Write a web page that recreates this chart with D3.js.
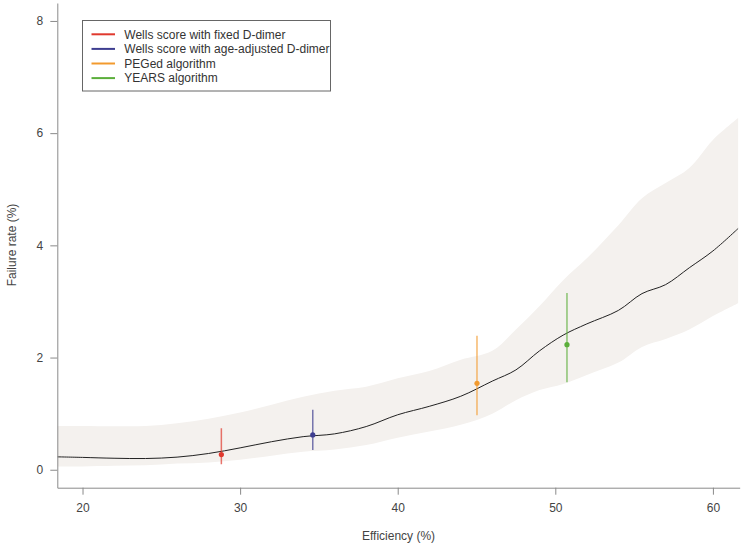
<!DOCTYPE html>
<html><head><meta charset="utf-8">
<script src="https://cdn.jsdelivr.net/npm/d3@7"></script>
<style>body{margin:0;background:#fff}svg{display:block;font-family:"Liberation Sans",Arial,sans-serif}</style>
</head><body><svg id="c" width="742" height="546"></svg>
<script>
// efficiency grid (%)
const effGrid = [18.4,20,22,24,26,28,30,32,34,36,38,40,42,44,46,47.5,49,50.5,52,54,55.5,57,58.5,60,61.6];
// central failure rate estimate (%)
const failCurve = [0.23,0.22,0.205,0.2,0.225,0.29,0.39,0.5,0.59,0.64,0.77,0.98,1.13,1.31,1.58,1.78,2.12,2.4,2.6,2.84,3.14,3.3,3.6,3.9,4.3];
// confidence band
const bandUpper = [0.78,0.78,0.775,0.78,0.83,0.91,1.02,1.16,1.3,1.41,1.48,1.63,1.76,1.96,2.12,2.5,2.92,3.38,3.77,4.36,4.84,5.11,5.38,5.88,6.27];
const bandLower = [0.06,0.06,0.07,0.08,0.11,0.13,0.18,0.25,0.32,0.36,0.44,0.57,0.68,0.8,1.0,1.24,1.42,1.53,1.69,1.91,2.19,2.33,2.5,2.74,2.97];
// algorithms
const algNames = ["Wells score with fixed D-dimer","Wells score with age-adjusted D-dimer","PEGed algorithm","YEARS algorithm"];
const algEff = [28.81,34.61,45.03,50.74];
const algFail = [0.27,0.62,1.54,2.23];
const algLow = [0.10,0.35,0.97,1.56];
const algHigh = [0.74,1.07,2.39,3.15];
const algColors = ["#E0392E","#3E3E90","#F29A2E","#5BAE3A"];
const xTicks = [20,30,40,50,60];
const yTicks = [0,2,4,6,8];

const svg = d3.select("#c");
const x = d3.scaleLinear().domain([18.4,61.7]).range([57.3,739.7]);
const y = d3.scaleLinear().domain([-0.32,8.32]).range([487.7,3]);

const curveData = effGrid.map((e,i)=>({e,m:failCurve[i],lo:bandLower[i],hi:bandUpper[i]}));

svg.append("defs").append("clipPath").attr("id","clip").append("rect")
  .attr("x",57.3).attr("y",3).attr("width",739.7-57.3).attr("height",487.7-3);

const g = svg.append("g").attr("clip-path","url(#clip)");
g.append("path").datum(curveData)
  .attr("d", d3.area().x(d=>x(d.e)).y0(d=>y(d.lo)).y1(d=>y(d.hi)).curve(d3.curveCatmullRom.alpha(0.5)))
  .attr("fill","#F4F1EE");
g.append("path").datum(curveData)
  .attr("d", d3.line().x(d=>x(d.e)).y(d=>y(d.m)).curve(d3.curveCatmullRom.alpha(0.5)))
  .attr("fill","none").attr("stroke","#222").attr("stroke-width",1);

algNames.forEach((n,i)=>{
  g.append("line").attr("x1",x(algEff[i])).attr("x2",x(algEff[i]))
    .attr("y1",y(algLow[i])).attr("y2",y(algHigh[i]))
    .attr("stroke",algColors[i]).attr("stroke-opacity",0.7).attr("stroke-width",1.5);
  g.append("circle").attr("cx",x(algEff[i])).attr("cy",y(algFail[i])).attr("r",2.6)
    .attr("fill",algColors[i]);
});

// axes
const axCol = "#8a8a8a";
const xAx = svg.append("g").attr("transform","translate(0,487.7)")
  .call(d3.axisBottom(x).tickValues(xTicks).tickSize(7).tickPadding(9).tickSizeOuter(0));
const yAx = svg.append("g").attr("transform","translate(57.3,0)")
  .call(d3.axisLeft(y).tickValues(yTicks).tickSize(7).tickPadding(7).tickSizeOuter(0));
[xAx,yAx].forEach(a=>{
  a.select(".domain").attr("stroke",axCol);
  a.selectAll(".tick line").attr("stroke",axCol);
  a.selectAll(".tick text").attr("fill","#444").style("font-size","12px").style("font-family","Liberation Sans, Arial, sans-serif");
});

svg.append("text").attr("x",398.5).attr("y",540).attr("text-anchor","middle")
  .attr("fill","#444").style("font-size","12px").text("Efficiency (%)");
svg.append("text").attr("transform","translate(16,245) rotate(-90)").attr("text-anchor","middle")
  .attr("fill","#444").style("font-size","12px").text("Failure rate (%)");

// legend
const lg = svg.append("g");
lg.append("rect").attr("x",82.5).attr("y",20.5).attr("width",248).attr("height",70.5)
  .attr("fill","#fff").attr("stroke","#666").attr("stroke-width",1);
algNames.forEach((n,i)=>{
  const yy = 34.3 + i*14.6;
  lg.append("line").attr("x1",91.5).attr("x2",115).attr("y1",yy).attr("y2",yy)
    .attr("stroke",algColors[i]).attr("stroke-width",2);
  lg.append("text").attr("x",124.3).attr("y",yy+4.2).attr("fill","#333")
    .style("font-size","12px").text(n);
});
</script></body></html>
